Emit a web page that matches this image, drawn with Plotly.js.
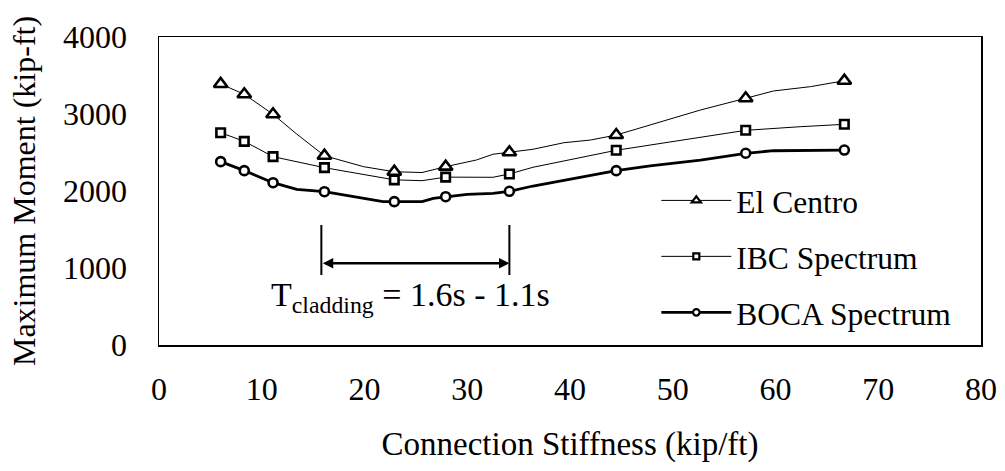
<!DOCTYPE html>
<html><head><meta charset="utf-8">
<script src="https://cdn.plot.ly/plotly-3.0.1.min.js"></script>
<style>html,body{margin:0;padding:0;background:#fff}#chart{width:1005px;height:471px}</style>
</head><body><div id="chart"></div>
<script>
// Marker positions (connection stiffness, kip/ft)
const markerX = [6.0, 8.3, 11.1, 16.1, 22.9, 27.9, 34.1, 44.5, 57.1, 66.7];

// El Centro curve
const elX = [6.0, 8.3, 11.1, 13.4, 16.1, 19.9, 22.9, 25.6, 27.9, 30.9, 32.5, 34.1, 36.4, 39.4, 42.0, 44.5, 47.8, 52.7, 57.1, 59.8, 63.4, 66.7];
const elY = [3390, 3256, 2996, 2740, 2458, 2316, 2250, 2240, 2316, 2403, 2477, 2503, 2542, 2627, 2662, 2727, 2857, 3052, 3204, 3299, 3355, 3432];

// IBC Spectrum curve
const ibcX = [6.0, 8.3, 11.1, 16.1, 22.9, 25.6, 27.9, 32.5, 34.1, 36.4, 44.5, 52.7, 57.1, 62.4, 66.7];
const ibcY = [2757, 2645, 2446, 2303, 2145, 2134, 2180, 2178, 2221, 2308, 2529, 2697, 2788, 2835, 2866];

// BOCA Spectrum curve
const bocaX = [6.0, 8.3, 11.1, 13.4, 16.1, 21.8, 22.9, 25.6, 26.7, 27.9, 30.0, 32.5, 34.1, 36.4, 44.5, 47.8, 52.7, 57.1, 59.8, 66.7];
const bocaY = [2381, 2264, 2108, 2022, 1991, 1861, 1862, 1861, 1905, 1926, 1957, 1970, 1996, 2065, 2264, 2325, 2400, 2490, 2523, 2532];

const seriesNames = ['El Centro', 'IBC Spectrum', 'BOCA Spectrum'];

// Cladding period bracket
const bracketX = [15.8, 34.1];
const bracketY = [909, 1558];
const arrowY = 1061;
const bracketLabel = 'T<sub>cladding</sub> = 1.6s - 1.1s';

const xTicks = [0, 10, 20, 30, 40, 50, 60, 70, 80];
const yTicks = [0, 1000, 2000, 3000, 4000];

const FONT = 'Liberation Serif, Times New Roman, serif';

function pick(xs, ys) {
  const px = [], py = [];
  xs.forEach((x, i) => { if (markerX.indexOf(x) >= 0) { px.push(x); py.push(ys[i]); } });
  return {px, py};
}

const defs = [
  {x: elX, y: elY, name: seriesNames[0], sym: 'triangle-up', size: 12, lw: 1, lsize: 8},
  {x: ibcX, y: ibcY, name: seriesNames[1], sym: 'square', size: 8.5, lw: 1, lsize: 6},
  {x: bocaX, y: bocaY, name: seriesNames[2], sym: 'circle', size: 9, lw: 2.8, lsize: 6.5}
];

const traces = [];
defs.forEach((d, i) => {
  traces.push({x: d.x, y: d.y, mode: 'lines', showlegend: false, hoverinfo: 'skip',
    line: {color: '#000', width: d.lw}});
  const m = pick(d.x, d.y);
  traces.push({x: m.px, y: m.py, mode: 'markers', showlegend: false,
    marker: {symbol: d.sym, size: d.size, color: '#fff', line: {color: '#000', width: 2.6}}});
  // legend entry
  traces.push({x: [null], y: [null], mode: 'lines+markers', name: d.name, legendgroup: 'g' + i,
    line: {color: '#000', width: d.lw},
    marker: {symbol: d.sym, size: d.lsize, color: '#fff', line: {color: '#000', width: 2.2}}});
});

const layout = {
  width: 1005, height: 471,
  margin: {l: 159, r: 24, t: 37, b: 126},
  paper_bgcolor: '#fff', plot_bgcolor: '#fff',
  font: {family: FONT, size: 32, color: '#000'},
  showlegend: true,
  legend: {x: 0.605, y: 0.557, xanchor: 'left', yanchor: 'top',
    font: {family: FONT, size: 31.5, color: '#000'},
    bgcolor: 'rgba(0,0,0,0)', tracegroupgap: 12, itemwidth: 70},
  xaxis: {range: [0, 80], tickvals: xTicks, ticktext: xTicks.map(String),
    showgrid: false, zeroline: false, showline: true, linecolor: '#000', linewidth: 1.5, mirror: true,
    ticks: '', ticklabelstandoff: 15,
    tickfont: {family: FONT, size: 32, color: '#000'},
    title: {text: 'Connection Stiffness (kip/ft)', font: {family: FONT, size: 33, color: '#000'}, standoff: 26}},
  yaxis: {range: [0, 4000], tickvals: yTicks, ticktext: yTicks.map(String),
    showgrid: false, zeroline: false, showline: true, linecolor: '#000', linewidth: 1.5, mirror: true,
    ticks: '', ticklabelstandoff: 24,
    tickfont: {family: FONT, size: 32, color: '#000'},
    title: {text: 'Maximum Moment (kip-ft)', font: {family: FONT, size: 32, color: '#000'}, standoff: 18}},
  shapes: bracketX.map(x => ({type: 'line', xref: 'x', yref: 'y', x0: x, x1: x, y0: bracketY[0], y1: bracketY[1],
    line: {color: '#000', width: 2}})),
  annotations: [
    {xref: 'x', yref: 'y', axref: 'x', ayref: 'y', x: bracketX[1], y: arrowY, ax: bracketX[0], ay: arrowY,
     text: '', showarrow: true, arrowhead: 2, arrowside: 'end+start', arrowsize: 0.8, arrowwidth: 2.6, arrowcolor: '#000', standoff: 0, startstandoff: 0},
    {xref: 'x', yref: 'y', x: (bracketX[0] + bracketX[1]) / 2 - 0.5, y: 620, text: bracketLabel, showarrow: false,
     font: {family: FONT, size: 34, color: '#000'}}
  ]
};

Plotly.newPlot('chart', traces, layout, {displayModeBar: false, staticPlot: true});
</script></body></html>
